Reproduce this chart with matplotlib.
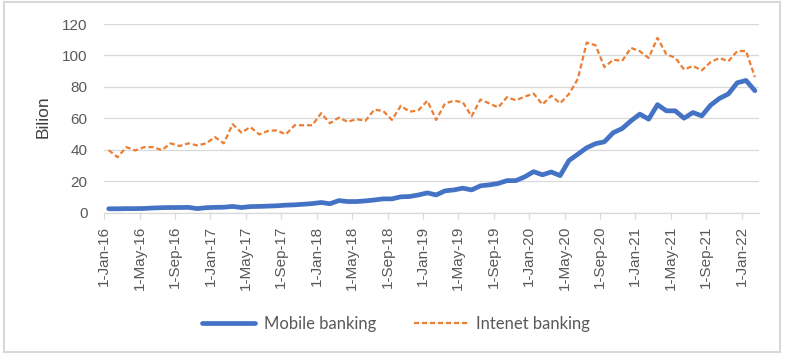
import numpy as np
import matplotlib
matplotlib.use('Agg')
import matplotlib.pyplot as plt
from matplotlib.patches import Rectangle

# monthly values, Jan 2016 - Feb 2022 (billion)
mobile = [2.5, 2.5, 2.6, 2.6, 2.7, 3.0, 3.2, 3.3, 3.3, 3.4, 2.6, 3.2,
          3.4, 3.5, 4.0, 3.3, 3.9, 4.0, 4.2, 4.4, 4.8, 5.0, 5.4, 5.8,
          6.5, 5.7, 7.7, 7.1, 7.1, 7.5, 8.1, 8.8, 8.8, 10.1, 10.3, 11.3,
          12.6, 11.3, 13.9, 14.5, 15.6, 14.5, 17.1, 17.7, 18.6, 20.4, 20.4, 22.8,
          26.1, 24.1, 25.9, 23.6, 33.2, 37.2, 41.3, 43.9, 45.1, 50.9, 53.5, 58.4,
          62.7, 59.5, 68.7, 64.8, 64.8, 60.1, 63.7, 61.6, 68.4, 72.7, 75.5, 82.6,
          84.1, 77.6]
internet = [39.8, 35.3, 41.7, 39.6, 41.7, 41.7, 39.8, 44.1, 42.4, 44.1, 42.8, 44.1,
            48.1, 44.1, 56.3, 50.9, 54.5, 49.8, 52.0, 52.4, 49.8, 55.6, 55.6, 55.6,
            63.3, 56.9, 60.5, 57.8, 59.5, 58.4, 65.5, 64.8, 59.0, 68.0, 64.2, 65.2,
            71.2, 59.0, 69.5, 71.2, 70.3, 61.3, 72.0, 69.5, 66.9, 73.5, 71.5, 73.8,
            75.8, 68.8, 74.4, 69.6, 75.5, 85.1, 108.2, 106.5, 92.6, 97.3, 96.5, 104.8,
            102.7, 98.4, 111.2, 100.7, 98.6, 91.1, 93.3, 90.5, 95.8, 98.4, 96.3, 102.7,
            102.9, 86.2]
tick_labels = ['1-Jan-16', '1-May-16', '1-Sep-16', '1-Jan-17', '1-May-17', '1-Sep-17',
               '1-Jan-18', '1-May-18', '1-Sep-18', '1-Jan-19', '1-May-19', '1-Sep-19',
               '1-Jan-20', '1-May-20', '1-Sep-20', '1-Jan-21', '1-May-21', '1-Sep-21',
               '1-Jan-22']

grey = '#d9d9d9'
txt = '#595959'

fig = plt.figure(figsize=(7.87, 3.59), dpi=100)
ax = fig.add_axes([0.1325, 0.4075, 0.8323, 0.5256])

x = np.arange(len(mobile)) + 0.5  # points sit mid-month (between tick marks)
ax.plot(x, mobile, color='#4472C4', lw=3.4, solid_capstyle='round',
        solid_joinstyle='round', label='Mobile banking', zorder=3)
ax.plot(x, internet, color='#ED7D31', lw=1.6, linestyle=(0, (2.3, 1.3)),
        label='Intenet banking', zorder=3)

ax.set_xlim(0, len(mobile))
ax.set_ylim(0, 120)
ax.set_yticks(range(0, 121, 20))
ax.set_xticks(range(0, len(mobile), 4))
ax.set_xticklabels(tick_labels, rotation=90, family='Liberation Sans',
                   fontsize=11, color=txt)
for t in ax.get_yticklabels():
    t.set_family('Liberation Sans')
    t.set_fontsize(11)
    t.set_color(txt)

ax.grid(axis='y', color=grey, lw=0.9, zorder=0)
ax.set_axisbelow(True)
for s in ['top', 'right', 'left']:
    ax.spines[s].set_visible(False)
ax.spines['bottom'].set_color(grey)
ax.spines['bottom'].set_linewidth(0.9)
ax.tick_params(axis='y', length=0, pad=12)
ax.tick_params(axis='x', length=4.3, color=grey, width=0.9, pad=5)

fig.text(43 / 787, 1 - 117 / 359, 'Bilion', rotation=90, ha='center',
         va='center', fontsize=12.5, color='#404040', family='Liberation Sans')

fig.legend(loc='center', bbox_to_anchor=(0.503, 0.0975), ncol=2, frameon=False,
           prop={'family': 'Lato', 'size': 12}, labelcolor=txt,
           handlelength=3.2, handletextpad=0.5, columnspacing=2.3)

fig.patches.append(Rectangle((4 / 787, 7 / 359), 776 / 787, 350 / 359,
                             transform=fig.transFigure, fill=False,
                             edgecolor=grey, lw=1.5))

fig.savefig('out.png', dpi=100)
